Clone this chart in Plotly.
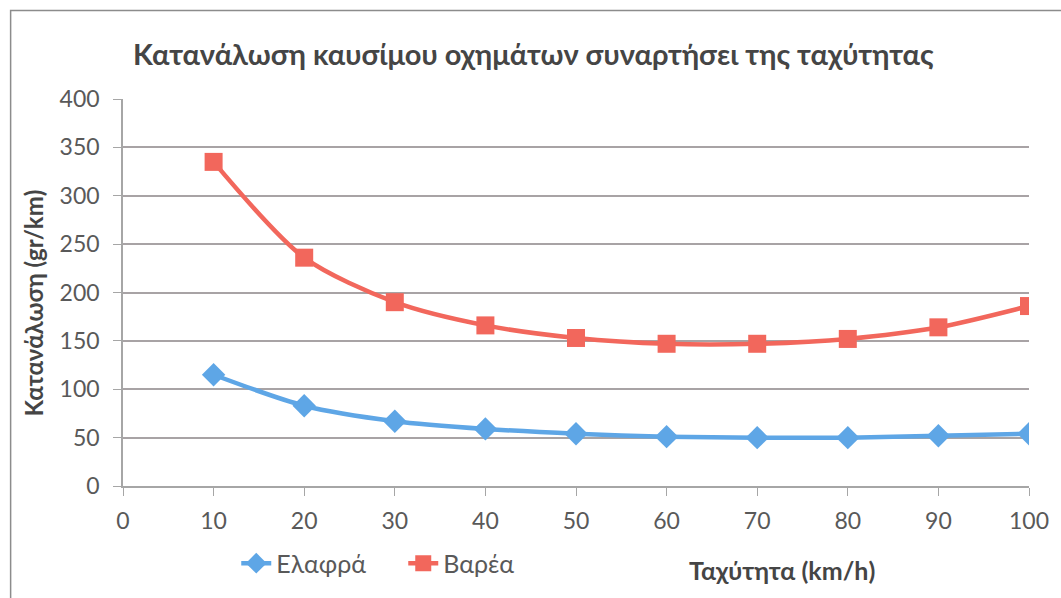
import plotly.graph_objects as go

# Speed (km/h) and fuel consumption (gr/km) for light and heavy vehicles
speed = [10, 20, 30, 40, 50, 60, 70, 80, 90, 100]
light = [115, 83, 67, 59, 54, 51, 50, 50, 52, 54]
heavy = [335, 236, 190, 166, 153, 147, 147, 152, 164, 186]

x_ticks = [0, 10, 20, 30, 40, 50, 60, 70, 80, 90, 100]
y_ticks = [0, 50, 100, 150, 200, 250, 300, 350, 400]

BLUE = "#5ea6e6"
RED = "#f2675c"
TEXT = "#595959"
DARK = "#454545"
FONT = "Lato"

fig = go.Figure()
fig.add_trace(go.Scatter(
    x=speed, y=light, name="Ελαφρά", mode="lines+markers",
    line=dict(color=BLUE, width=4.5, shape="spline", smoothing=0.8),
    marker=dict(symbol="diamond", size=18, color=BLUE),
))
fig.add_trace(go.Scatter(
    x=speed, y=heavy, name="Βαρέα", mode="lines+markers",
    line=dict(color=RED, width=4.5, shape="spline", smoothing=0.8),
    marker=dict(symbol="square", size=18, color=RED),
))

fig.update_layout(
    width=1061, height=598,
    margin=dict(l=123, r=27, t=99, b=110),
    paper_bgcolor="white", plot_bgcolor="white",
    font=dict(family=FONT, color=TEXT, size=23),
    showlegend=True,
    legend=dict(
        orientation="h", x=0.125, xanchor="left", y=-0.2, yanchor="middle",
        font=dict(family=FONT, size=25, color=TEXT),
        itemwidth=30, tracegroupgap=0,
        entrywidth=122, entrywidthmode="pixels",
    ),
    xaxis=dict(
        range=[0, 100], tickvals=x_ticks, showgrid=False, zeroline=False,
        showline=True, linecolor="#a6a6a6", linewidth=1.5,
        ticks="outside", ticklen=8, tickcolor="#a6a6a6",
        ticklabelstandoff=6,
        tickfont=dict(family=FONT, size=23, color=TEXT),
    ),
    yaxis=dict(
        range=[0, 400], tickvals=y_ticks, showgrid=True, gridcolor="#a8a3a5",
        gridwidth=1.5, zeroline=False,
        showline=True, linecolor="#a6a6a6", linewidth=1.5,
        ticks="outside", ticklen=8, tickcolor="#a6a6a6",
        ticklabelstandoff=9,
        tickfont=dict(family=FONT, size=23, color=TEXT),
    ),
    annotations=[
        dict(text="<b>Κατανάλωση καυσίμου οχημάτων συναρτήσει της ταχύτητας</b>",
             xref="paper", yref="paper", x=(131 - 123) / 911, y=1 + (99 - 53) / 389,
             xanchor="left", yanchor="middle", showarrow=False,
             font=dict(family=FONT, size=29, color=DARK)),
        dict(text="<b>Κατανάλωση (gr/km)</b>", textangle=-90,
             xref="paper", yref="paper", x=(33 - 123) / 911, y=(488 - 304) / 389,
             xanchor="center", yanchor="middle", showarrow=False,
             font=dict(family=FONT, size=24, color=DARK)),
        dict(text="<b>Ταχύτητα (km/h)</b>",
             xref="paper", yref="paper", x=(786 - 123) / 911, y=(488 - 572) / 389,
             xanchor="center", yanchor="middle", showarrow=False,
             font=dict(family=FONT, size=25, color=DARK)),
    ],
    shapes=[
        dict(type="rect", xref="paper", yref="paper",
             x0=(10 - 123) / 911, x1=(1075 - 123) / 911,
             y0=(488 - 610) / 389, y1=(488 - 10) / 389,
             line=dict(color="#8c8c8c", width=1.5), fillcolor="rgba(0,0,0,0)",
             layer="below"),
    ],
)

fig.write_html("out.html")
